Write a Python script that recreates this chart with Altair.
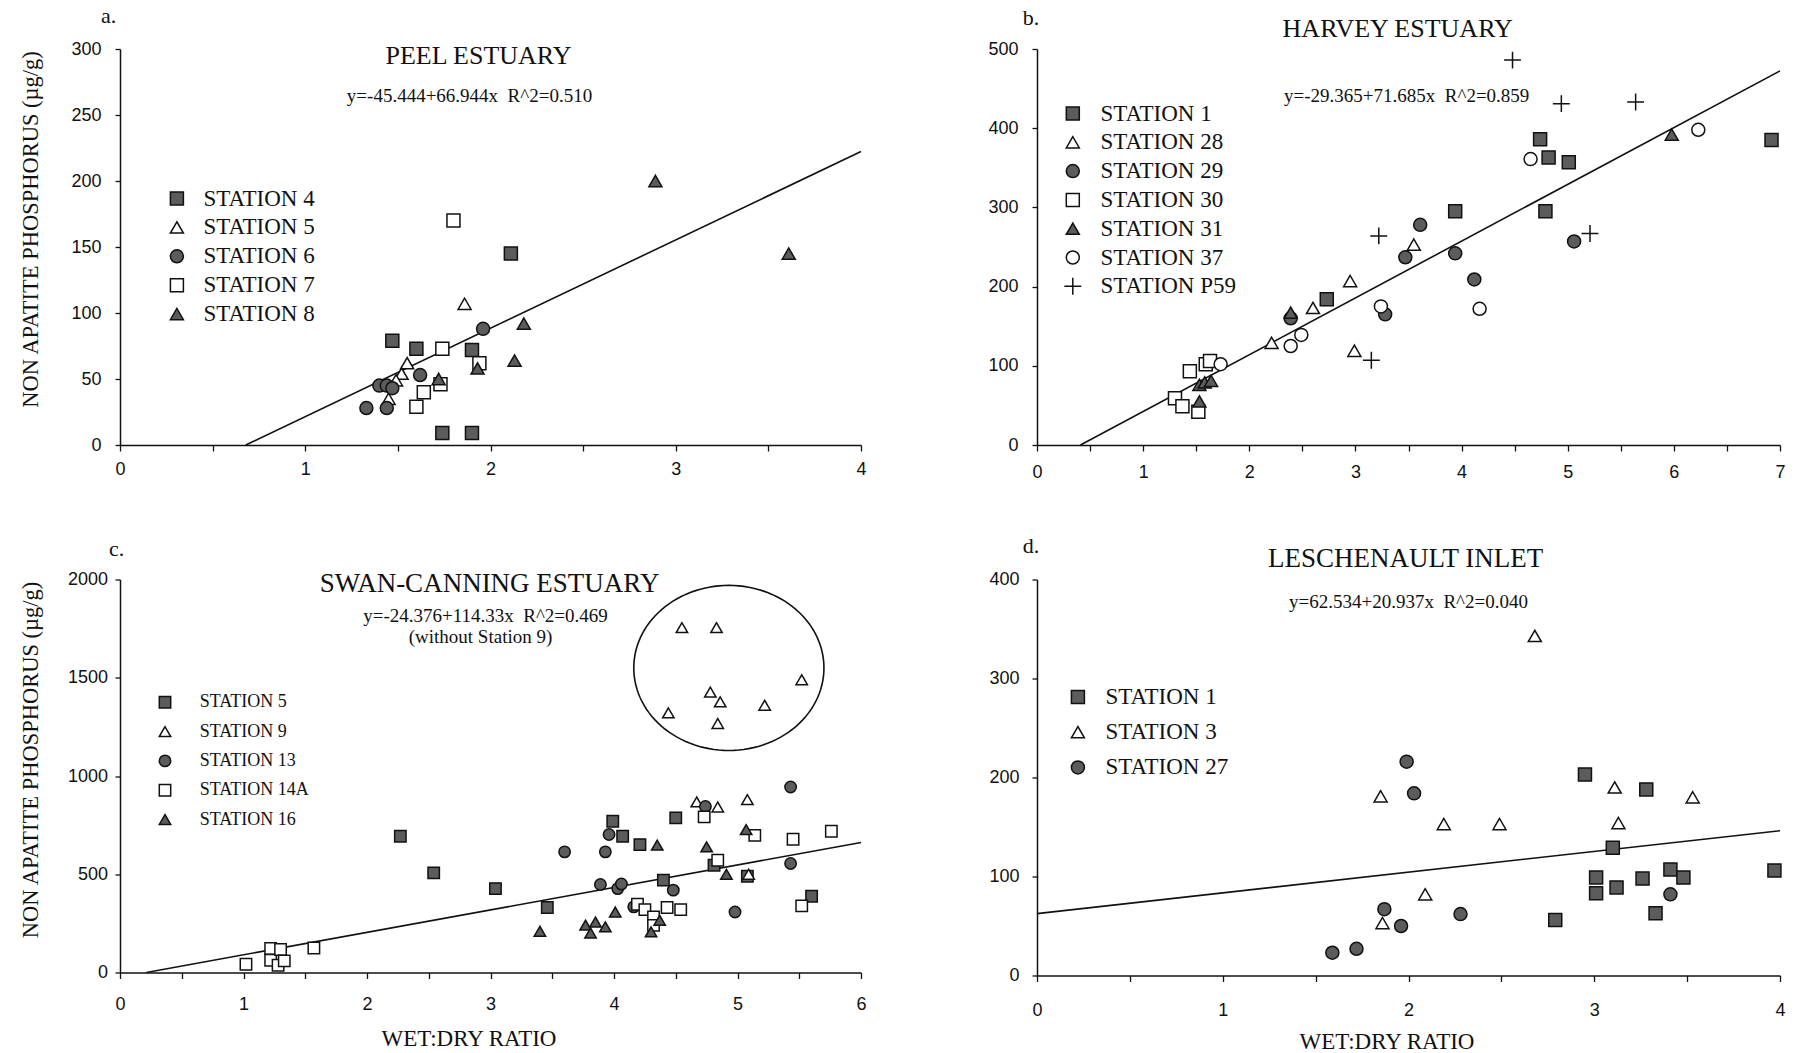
import altair as alt
import numpy as np
import pandas as pd

# ---------------------------------------------------------------- data
# a. Peel Estuary
PEEL_STATIONS = ["STATION 4", "STATION 5", "STATION 6", "STATION 7", "STATION 8"]
PEEL_X = [
    [1.47, 1.60, 2.11, 1.90, 1.74, 1.90],
    [1.86, 1.55, 1.52, 1.49, 1.45],
    [1.96, 1.62, 1.40, 1.44, 1.47, 1.33, 1.44],
    [1.80, 1.74, 1.94, 1.73, 1.64, 1.60],
    [2.89, 3.61, 2.18, 2.13, 1.93, 1.72],
]
PEEL_Y = [
    [79, 73, 145, 72, 9, 9],
    [107, 62, 54, 49, 35],
    [88, 53, 45, 45, 43, 28, 28],
    [170, 73, 62, 46, 40, 29],
    [200, 145, 92, 64, 58, 50],
]
PEEL_FIT = [-45.444, 66.944]

# b. Harvey Estuary
HARVEY_STATIONS = ["STATION 1", "STATION 28", "STATION 29", "STATION 30",
                   "STATION 31", "STATION 37", "STATION P59"]
HARVEY_X = [
    [2.73, 3.94, 4.74, 4.82, 5.01, 4.79, 6.92],
    [2.21, 2.60, 2.95, 2.99, 3.55],
    [2.39, 3.47, 3.61, 3.28, 3.94, 4.12, 5.06],
    [1.44, 1.30, 1.37, 1.52, 1.59, 1.63],
    [1.53, 1.58, 1.64, 1.53, 2.39, 5.98],
    [1.73, 2.39, 2.49, 3.24, 4.17, 4.65, 6.23],
    [3.22, 3.15, 4.48, 4.94, 5.64, 5.21],
]
HARVEY_Y = [
    [184, 295, 386, 363, 357, 295, 385],
    [129, 173, 207, 119, 253],
    [160, 237, 278, 165, 242, 209, 257],
    [93, 59, 49, 42, 102, 106],
    [76, 79, 81, 55, 167, 392],
    [102, 125, 139, 175, 172, 361, 398],
    [264, 107, 486, 431, 433, 267],
]
HARVEY_FIT = [-29.365, 71.685]

# c. Swan-Canning Estuary
SWAN_STATIONS = ["STATION 5", "STATION 9", "STATION 13", "STATION 14A", "STATION 16"]
SWAN_X = [
    [2.27, 2.54, 3.04, 3.46, 3.99, 4.07, 4.21, 4.50, 4.40, 4.81, 5.08, 5.60],
    [4.55, 4.83, 5.52, 4.78, 4.86, 5.22, 4.44, 4.84, 4.67, 4.84, 5.08, 5.09],
    [3.60, 3.93, 3.96, 3.89, 4.03, 4.06, 4.48, 4.16, 4.98, 5.43, 5.43, 4.74],
    [1.02, 1.22, 1.22, 1.28, 1.30, 1.33, 1.57, 4.19, 4.25, 4.32, 4.32, 4.43,
     4.54, 4.73, 4.84, 5.14, 5.45, 5.76, 5.52],
    [3.40, 3.77, 3.81, 3.85, 3.93, 4.01, 4.35, 4.30, 4.37, 4.75, 4.91, 5.07],
]
SWAN_Y = [
    [693, 507, 427, 331, 770, 693, 651, 787, 470, 546, 490, 388],
    [1755, 1755, 1490, 1427, 1377, 1360, 1321, 1267, 868, 842, 880, 500],
    [614, 614, 702, 448, 427, 450, 419, 334, 308, 944, 555, 845],
    [42, 122, 62, 37, 117, 59, 125, 347, 320, 283, 240, 331,
     320, 792, 571, 698, 678, 719, 339],
    [210, 241, 201, 257, 232, 308, 648, 207, 266, 639, 500, 727],
]
SWAN_FIT = [-24.376, 114.33]
# ring drawn round the Station 9 outliers: centre and radii in data units
SWAN_RING_CENTRE = [4.93, 1550]
SWAN_RING_RADII = [0.77, 420]

# d. Leschenault Inlet
LESCH_STATIONS = ["STATION 1", "STATION 3", "STATION 27"]
LESCH_X = [
    [2.95, 3.28, 3.10, 3.01, 3.01, 3.12, 3.26, 3.41, 3.48, 3.33, 2.79, 3.97],
    [2.68, 1.85, 3.11, 3.53, 2.19, 2.49, 3.13, 2.09, 1.86],
    [1.99, 2.03, 1.87, 1.96, 2.28, 1.72, 1.59, 3.41],
]
LESCH_Y = [
    [203, 188, 129, 99, 83, 89, 98, 107, 99, 63, 56, 106],
    [343, 181, 190, 180, 153, 153, 154, 82, 53],
    [216, 184, 67, 50, 62, 27, 23, 82],
]
LESCH_FIT = [62.534, 20.937]

# ---------------------------------------------------------------- styles
INK = "#111111"
DARK = "#5c5c5c"
OPEN = "#ffffff"
SERIF = "Liberation Serif, Times New Roman, serif"
TICKS = "Liberation Sans, Arial, sans-serif"
PLUS = "M-1.3,0L1.3,0M0,-1.3L0,1.3"

Y_TITLE = "NON APATITE PHOSPHORUS (\u00b5g/g)"
X_TITLE = "WET:DRY RATIO"


def points_frame(names, xs, ys):
    rows = []
    for name, xl, yl in zip(names, xs, ys):
        for x, y in zip(xl, yl):
            rows.append({"station": name, "x": x, "y": y})
    return pd.DataFrame(rows)


def text_layer(text, px, py, size, font=SERIF):
    return alt.Chart(pd.DataFrame({"t": [text]})).mark_text(
        font=font, fontSize=size, color=INK, align="center", baseline="middle"
    ).encode(x=alt.value(px), y=alt.value(py), text="t:N")


def panel(names, xs, ys, fit, shapes, fills, x_max, y_max, y_step, width, height,
          letter, letter_xy, title, title_xy, title_size, eqs, legend, point_size,
          x_label_pad, y_label_pad, show_x_title, show_y_title, ring=None):
    xscale = alt.Scale(domain=[0, x_max], nice=False, zero=True)
    yscale = alt.Scale(domain=[0, y_max], nice=False, zero=True)

    x_axis_kw = dict(
        values=[v / 2 for v in range(0, int(x_max * 2) + 1)],
        labelExpr="datum.value % 1 === 0 ? format(datum.value, 'd') : ''",
        labelFlush=False, labelOverlap=False, tickSize=6,
        labelPadding=x_label_pad,
    )
    if show_x_title:
        x_axis_kw.update(titleFont=SERIF, titleFontSize=23, titleFontWeight="normal",
                         titleColor=INK, titleX=width / 2 - 22, titleY=66,
                         titleBaseline="middle", titleAlign="center")
    y_axis_kw = dict(
        values=list(range(0, y_max + 1, y_step)), format="d",
        tickSize=5, labelPadding=y_label_pad, labelOverlap=False,
    )
    if show_y_title:
        y_axis_kw.update(titleFont=SERIF, titleFontSize=22.5, titleFontWeight="normal",
                         titleColor=INK, titleX=-90, titleY=180,
                         titleAngle=270, titleBaseline="middle", titleAlign="center")

    x_enc = alt.X("x:Q", scale=xscale, axis=alt.Axis(**x_axis_kw),
                  title=X_TITLE if show_x_title else None)
    y_enc = alt.Y("y:Q", scale=yscale, axis=alt.Axis(**y_axis_kw),
                  title=Y_TITLE if show_y_title else None)

    leg = alt.Legend(
        orient="none", legendX=legend["x"], legendY=legend["y"], title=None,
        labelFont=SERIF, labelFontSize=legend["font"], labelColor=INK,
        labelOffset=legend["offset"], rowPadding=legend["row"], padding=0,
        symbolSize=point_size, symbolStrokeWidth=1.5,
    )

    df = points_frame(names, xs, ys)
    pts = alt.Chart(df).mark_point(
        filled=True, strokeWidth=1.5, size=point_size, opacity=1
    ).encode(
        x=x_enc, y=y_enc,
        shape=alt.Shape("station:N", scale=alt.Scale(domain=names, range=shapes), legend=leg),
        fill=alt.Fill("station:N", scale=alt.Scale(domain=names, range=fills), legend=leg),
        stroke=alt.Stroke("station:N", scale=alt.Scale(domain=names, range=[INK] * len(names)),
                          legend=leg),
    )

    a, b = fit
    x0 = max(0.0, -a / b)
    line_df = pd.DataFrame({"x": [x0, x_max], "y": [a + b * x0, a + b * x_max]})
    line = alt.Chart(line_df).mark_line(color=INK, strokeWidth=1.6).encode(x=x_enc, y=y_enc)

    layers = [line]
    if ring is not None:
        (cx, cy), (rx, ry) = ring
        t = np.linspace(0, 2 * np.pi, 121)
        ring_df = pd.DataFrame({"x": cx + rx * np.cos(t), "y": cy + ry * np.sin(t),
                                "k": np.arange(len(t))})
        layers.append(alt.Chart(ring_df).mark_line(color=INK, strokeWidth=1.6).encode(
            x=x_enc, y=y_enc, order="k:Q",
        ))
    layers.append(pts)
    layers.append(text_layer(letter, letter_xy[0], letter_xy[1], 22))
    layers.append(text_layer(title, title_xy[0], title_xy[1], title_size))
    for txt, ex, ey, es in eqs:
        layers.append(text_layer(txt, ex, ey, es))

    return alt.layer(*layers).properties(width=width, height=height)


SP = "\u00a0\u00a0"

peel = panel(
    PEEL_STATIONS, PEEL_X, PEEL_Y, PEEL_FIT,
    ["square", "triangle-up", "circle", "square", "triangle-up"],
    [DARK, OPEN, DARK, OPEN, DARK],
    4, 300, 50, 741, 396,
    "a.", (-11.5, -33.5), "PEEL ESTUARY", (358.5, 7), 26,
    [("y=-45.444+66.944x" + SP + "R^2=0.510", 349.5, 46.5, 19)],
    {"x": 45.4, "y": 138, "font": 23, "offset": 15, "row": 4.9},
    169, 9.5, 14, False, True,
)

harvey = panel(
    HARVEY_STATIONS, HARVEY_X, HARVEY_Y, HARVEY_FIT,
    ["square", "triangle-up", "circle", "square", "triangle-up", "circle", PLUS],
    [DARK, OPEN, DARK, OPEN, DARK, OPEN, OPEN],
    7, 500, 100, 743, 396,
    "b.", (-6, -31.5), "HARVEY ESTUARY", (360.7, -19.8), 26,
    [("y=-29.365+71.685x" + SP + "R^2=0.859", 369.7, 46.8, 19)],
    {"x": 24.3, "y": 53, "font": 23, "offset": 16.1, "row": 4.8},
    169, 12.5, 14, False, False,
)

swan = panel(
    SWAN_STATIONS, SWAN_X, SWAN_Y, SWAN_FIT,
    ["square", "triangle-up", "circle", "square", "triangle-up"],
    [DARK, OPEN, DARK, OPEN, DARK],
    6, 2000, 500, 741, 393,
    "c.", (-3.5, -31), "SWAN-CANNING ESTUARY", (369.5, 4), 27,
    [("y=-24.376+114.33x" + SP + "R^2=0.469", 365.5, 36, 19),
     ("(without Station 9)", 360.5, 57.7, 19)],
    {"x": 36, "y": 113.8, "font": 18, "offset": 25.7, "row": 11.3},
    130, 16.5, 7.5, True, True,
    ring=(SWAN_RING_CENTRE, SWAN_RING_RADII),
)

lesch = panel(
    LESCH_STATIONS, LESCH_X, LESCH_Y, LESCH_FIT,
    ["square", "triangle-up", "circle"],
    [DARK, OPEN, DARK],
    4, 400, 100, 743, 396,
    "d.", (-6, -34), "LESCHENAULT INLET", (368.7, -20.7), 27,
    [("y=62.534+20.937x" + SP + "R^2=0.040", 371.5, 22.7, 19)],
    {"x": 29.4, "y": 106, "font": 23, "offset": 16, "row": 11.2},
    169, 19.5, 13, True, False,
)

chart = alt.concat(
    peel, harvey, swan, lesch,
    columns=2, spacing={"row": 134.5, "column": 176}, bounds="flush",
).resolve_scale(
    shape="independent", fill="independent", stroke="independent"
).properties(
    padding={"left": 18, "top": 4, "right": 0, "bottom": 0},
    background="white",
).configure_view(
    strokeOpacity=0,
).configure_axis(
    grid=False,
    domainColor=INK, domainWidth=1.5,
    tickColor=INK, tickWidth=1.3,
    labelColor=INK, labelFont=TICKS, labelFontSize=18,
)

chart.save("out.html", embed_options={"renderer": "svg", "actions": False})
